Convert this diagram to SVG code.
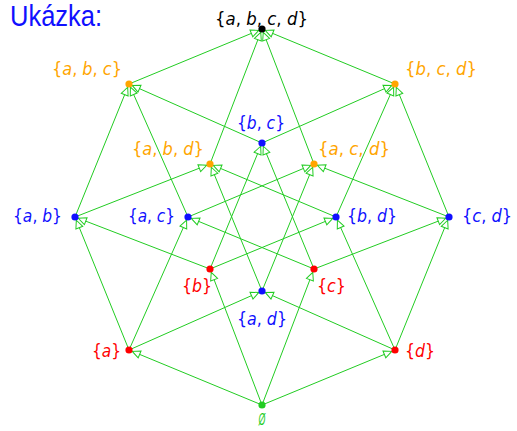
<svg xmlns="http://www.w3.org/2000/svg" width="517" height="431" viewBox="0 0 517 431">
<style>
.e{stroke:#22cc22;stroke-width:1;fill:none;marker-end:url(#ah)}
.m{font-family:"DejaVu Sans",sans-serif;font-size:18px}
.i{font-style:italic}
.blue{fill:#1010ff}
.org{fill:#ffa500}
.red{fill:#ff0000}
.grn{fill:#22cc22}
.blk{fill:#000}
</style>
<defs>
<marker id="ah" markerUnits="userSpaceOnUse" markerWidth="16" markerHeight="10" viewBox="0 0 16 10" refX="13" refY="5" orient="auto">
<path d="M1.5,1.3 L9.5,5 L1.5,8.7 Z" fill="#fff" stroke="#22cc22" stroke-width="1"/>
</marker>
</defs>
<rect width="517" height="431" fill="#fff"/>
<text transform="translate(10,26) scale(0.88,1)" font-family="Liberation Sans,sans-serif" font-size="29" fill="#1010ff">Ukázka:</text>
<g id="connectors">
<line class="e" x1="262" y1="405" x2="129" y2="350"/>
<line class="e" x1="262" y1="405" x2="210" y2="269"/>
<line class="e" x1="262" y1="405" x2="314" y2="269"/>
<line class="e" x1="262" y1="405" x2="395" y2="350"/>
<line class="e" x1="129" y1="350" x2="75" y2="217"/>
<line class="e" x1="129" y1="350" x2="188" y2="217"/>
<line class="e" x1="129" y1="350" x2="262" y2="291"/>
<line class="e" x1="210" y1="269" x2="75" y2="217"/>
<line class="e" x1="210" y1="269" x2="262" y2="143"/>
<line class="e" x1="210" y1="269" x2="336" y2="217"/>
<line class="e" x1="314" y1="269" x2="188" y2="217"/>
<line class="e" x1="314" y1="269" x2="262" y2="143"/>
<line class="e" x1="314" y1="269" x2="449" y2="217"/>
<line class="e" x1="395" y1="350" x2="262" y2="291"/>
<line class="e" x1="395" y1="350" x2="336" y2="217"/>
<line class="e" x1="395" y1="350" x2="449" y2="217"/>
<line class="e" x1="75" y1="217" x2="129" y2="84"/>
<line class="e" x1="75" y1="217" x2="210" y2="164"/>
<line class="e" x1="188" y1="217" x2="129" y2="84"/>
<line class="e" x1="188" y1="217" x2="314" y2="164"/>
<line class="e" x1="262" y1="291" x2="210" y2="164"/>
<line class="e" x1="262" y1="291" x2="314" y2="164"/>
<line class="e" x1="262" y1="143" x2="129" y2="84"/>
<line class="e" x1="262" y1="143" x2="395" y2="84"/>
<line class="e" x1="336" y1="217" x2="210" y2="164"/>
<line class="e" x1="336" y1="217" x2="395" y2="84"/>
<line class="e" x1="449" y1="217" x2="314" y2="164"/>
<line class="e" x1="449" y1="217" x2="395" y2="84"/>
<line class="e" x1="129" y1="84" x2="262" y2="29"/>
<line class="e" x1="210" y1="164" x2="262" y2="29"/>
<line class="e" x1="314" y1="164" x2="262" y2="29"/>
<line class="e" x1="395" y1="84" x2="262" y2="29"/>
</g>
<g id="n-abcd"><circle cx="262" cy="29" r="3.6" class="blk"/><text class="m blk" transform="translate(215,25) scale(0.92,1)">{<tspan class="i">a</tspan>, <tspan class="i">b</tspan>, <tspan class="i">c</tspan>, <tspan class="i">d</tspan>}</text></g>
<g id="n-abc"><circle cx="129" cy="84" r="3.6" class="org"/><text class="m org" transform="translate(52,75) scale(0.895,1)">{<tspan class="i">a</tspan>, <tspan class="i">b</tspan>, <tspan class="i">c</tspan>}</text></g>
<g id="n-bcd"><circle cx="395" cy="84" r="3.6" class="org"/><text class="m org" transform="translate(405,75) scale(0.916,1)">{<tspan class="i">b</tspan>, <tspan class="i">c</tspan>, <tspan class="i">d</tspan>}</text></g>
<g id="n-bc"><circle cx="262" cy="143" r="3.6" class="blue"/><text class="m blue" transform="translate(237,129) scale(0.862,1)">{<tspan class="i">b</tspan>, <tspan class="i">c</tspan>}</text></g>
<g id="n-abd"><circle cx="210" cy="164" r="3.6" class="org"/><text class="m org" transform="translate(132,155) scale(0.903,1)">{<tspan class="i">a</tspan>, <tspan class="i">b</tspan>, <tspan class="i">d</tspan>}</text></g>
<g id="n-acd"><circle cx="314" cy="164" r="3.6" class="org"/><text class="m org" transform="translate(318,155) scale(0.921,1)">{<tspan class="i">a</tspan>, <tspan class="i">c</tspan>, <tspan class="i">d</tspan>}</text></g>
<g id="n-ab"><circle cx="75" cy="217" r="3.6" class="blue"/><text class="m blue" transform="translate(13,222) scale(0.863,1)">{<tspan class="i">a</tspan>, <tspan class="i">b</tspan>}</text></g>
<g id="n-ac"><circle cx="188" cy="217" r="3.6" class="blue"/><text class="m blue" transform="translate(128,222) scale(0.85,1)">{<tspan class="i">a</tspan>, <tspan class="i">c</tspan>}</text></g>
<g id="n-bd"><circle cx="336" cy="217" r="3.6" class="blue"/><text class="m blue" transform="translate(347,222) scale(0.874,1)">{<tspan class="i">b</tspan>, <tspan class="i">d</tspan>}</text></g>
<g id="n-cd"><circle cx="449" cy="217" r="3.6" class="blue"/><text class="m blue" transform="translate(462,222) scale(0.898,1)">{<tspan class="i">c</tspan>, <tspan class="i">d</tspan>}</text></g>
<g id="n-b"><circle cx="210" cy="269" r="3.6" class="red"/><text class="m red" transform="translate(182,292) scale(0.874,1)">{<tspan class="i">b</tspan>}</text></g>
<g id="n-c"><circle cx="314" cy="269" r="3.6" class="red"/><text class="m red" transform="translate(317,292) scale(0.884,1)">{<tspan class="i">c</tspan>}</text></g>
<g id="n-ad"><circle cx="262" cy="291" r="3.6" class="blue"/><text class="m blue" transform="translate(237,325) scale(0.88,1)">{<tspan class="i">a</tspan>, <tspan class="i">d</tspan>}</text></g>
<g id="n-a"><circle cx="129" cy="350" r="3.6" class="red"/><text class="m red" transform="translate(92,357) scale(0.855,1)">{<tspan class="i">a</tspan>}</text></g>
<g id="n-d"><circle cx="395" cy="350" r="3.6" class="red"/><text class="m red" transform="translate(405,357) scale(0.874,1)">{<tspan class="i">d</tspan>}</text></g>
<g id="n-empty"><circle cx="262" cy="405" r="3.6" class="grn"/><text class="grn" transform="translate(262,425) scale(0.55,1)" font-family="Liberation Sans,sans-serif" font-size="16" font-style="italic" text-anchor="middle">Ø</text></g>
</svg>
